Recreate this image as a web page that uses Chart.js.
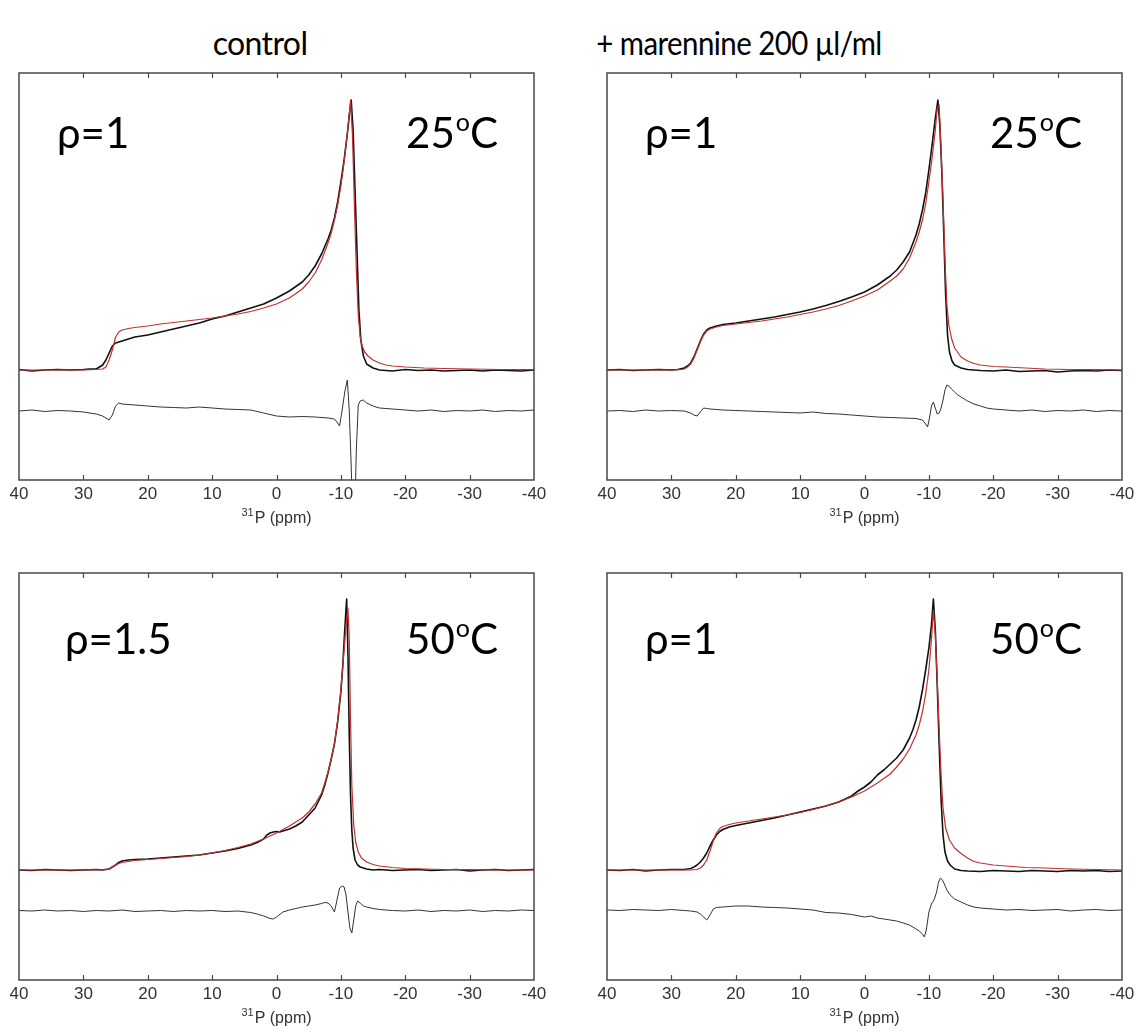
<!DOCTYPE html>
<html>
<head>
<meta charset="utf-8">
<script src="https://cdn.jsdelivr.net/npm/chart.js@4.4.1/dist/chart.umd.min.js"></script>
<style>
  body { margin: 0; width: 1136px; height: 1032px; background: #fff; position: relative; overflow: hidden; }
  .head { position: absolute; top: 23px; font-family: Lato, "Open Sans", sans-serif; font-size: 32px; color: #000; transform: translateX(-50%); white-space: nowrap; letter-spacing: -0.6px; }
  #head1 { transform: translateX(-50%) scaleX(0.92); }
  canvas { position: absolute; }
</style>
</head>
<body>
<div class="head" id="head0" style="left:260px"></div>
<div class="head" id="head1" style="left:739px"></div>
<canvas id="p0"></canvas>
<canvas id="p1"></canvas>
<canvas id="p2"></canvas>
<canvas id="p3"></canvas>
<script>
// 31P spectra: experimental (black), fit (red), difference (grey, offset below)
const ppmTicks = [40, 30, 20, 10, 0, -10, -20, -30, -40];
const columnTitles = ["control", "+ marennine 200 µl/ml"];
const rhoLabels = ["ρ=1", "ρ=1", "ρ=1.5", "ρ=1"];
const tempLabels = ["25", "25", "50", "50"];
const axisTitle = ["31", "P (ppm)"];   // superscript mass number + label

// --- control, 25 C
const p1ExpX = [40, 38, 36, 34, 32, 30, 29, 28, 27, 26.5, 26, 25.5, 25, 24, 23, 22, 20, 18, 16, 14, 12, 10, 8, 6, 4, 2, 0, -2, -4, -5, -6, -7, -8, -8.5, -9, -9.5, -10, -10.5, -11, -11.3, -11.6, -11.9, -12.2, -12.5, -12.8, -13.1, -13.5, -14, -15, -16, -18, -20, -22, -24, -26, -28, -30, -32, -34, -36, -38, -40];
const p1ExpY = [0.5, -1, 0, 0.5, 0, 0.5, 1, 1, 5, 10, 17, 24, 27, 29, 31, 33, 35, 38, 41, 44, 47, 51, 54, 58, 62, 66, 72, 79, 88, 95, 104, 116, 131, 140, 152, 168, 188, 210, 236, 254, 270, 240, 180, 120, 60, 30, 14, 6, 2, 0, -1, 0.5, -0.5, 0, -1, -0.5, 0, -1, 0, -0.5, -1, 0];
const p1FitX = [40, 30, 28, 27, 26.5, 26, 25.5, 25, 24.5, 24, 23, 22, 20, 18, 16, 14, 12, 10, 8, 6, 4, 2, 0, -2, -4, -5, -6, -7, -8, -8.5, -9, -9.5, -10, -10.5, -11, -11.5, -11.8, -12.1, -12.4, -12.7, -13, -13.3, -13.7, -14.2, -15, -16, -17, -18, -20, -23, -26, -30, -35, -40];
const p1FitY = [0, 0, 0.5, 1, 3, 10, 20, 33, 38, 40, 41.5, 42.5, 44, 46, 47.5, 49, 50.5, 52, 54, 56, 58.5, 62, 66, 72, 81, 88, 97, 110, 127, 137, 150, 165, 184, 208, 236, 270, 235, 165, 100, 55, 33, 24, 18, 14, 10, 7, 5, 4, 3, 2, 1.5, 1, 0.5, 0.3];
const p1DiffX = [40, 38, 36, 34, 32, 30, 28, 27, 26.5, 26, 25.5, 25, 24.5, 24, 22, 20, 18, 16, 14, 12, 10, 8, 6, 4, 2, 0, -2, -4, -6, -8, -9, -9.5, -9.8, -10.2, -10.6, -11, -11.3, -11.6, -11.9, -12.1, -12.4, -12.7, -13, -13.5, -14, -15, -16, -18, -20, -22, -24, -26, -28, -30, -32, -34, -36, -38, -40];
const p1DiffY = [-41, -40, -41.5, -40.5, -41, -42, -44, -46, -48, -50, -45, -36, -33, -34, -35, -36, -37, -37.5, -38, -37, -38, -39, -39.5, -40, -43, -46, -47, -46.5, -47, -48, -49, -53, -56, -40, -22, -10, -40, -95, -160, -160, -80, -35, -31, -30, -33, -36, -38, -39, -40, -41, -40, -41.5, -40.5, -41, -40, -41.5, -40.5, -41, -40];

// --- marennine, 25 C
const p2ExpX = [40, 38, 36, 34, 32, 30, 29, 28, 27.5, 27, 26.5, 26, 25.5, 25, 24.5, 24, 23, 22, 20, 18, 16, 14, 12, 10, 8, 6, 4, 2, 0, -2, -4, -5, -6, -7, -8, -8.5, -9, -9.5, -10, -10.5, -11, -11.4, -11.7, -12, -12.3, -12.6, -12.9, -13.2, -13.6, -14, -15, -16, -18, -20, -22, -24, -26, -28, -30, -32, -34, -36, -38, -40];
const p2ExpY = [0, 0.5, -0.5, 0, 0.5, 0, 0.5, 2, 4, 7, 13, 21, 29, 36, 40, 42, 44, 45.5, 47, 49, 51, 53, 55.5, 58, 61, 64.5, 68.5, 73, 78, 85, 94, 100, 108, 118, 135, 146, 160, 177, 200, 225, 252, 270, 245, 200, 140, 76, 35, 18, 9, 5, 2, 0.5, -0.5, -1, 0, -1.5, -1, -0.5, -2, -1, -0.5, -1, 0, -0.5];
const p2FitX = [40, 30, 28.5, 28, 27.5, 27, 26.5, 26, 25.5, 25, 24.5, 24, 23, 22, 20, 18, 16, 14, 12, 10, 8, 6, 4, 2, 0, -2, -4, -5, -6, -7, -8, -8.5, -9, -9.5, -10, -10.5, -11, -11.3, -11.6, -11.9, -12.2, -12.5, -12.8, -13.1, -13.5, -14, -15, -16, -17, -18, -20, -22, -25, -28, -32, -36, -40];
const p2FitY = [0, 0, 0.5, 1, 3, 6, 12, 20, 28, 35, 39, 41, 43, 44.5, 46, 47.5, 49, 51, 53, 55.5, 58, 61, 64.5, 69, 74, 80, 89, 94, 101, 112, 128, 138, 150, 166, 188, 212, 240, 262, 265, 220, 170, 110, 65, 45, 32, 22, 13, 9, 6.5, 5, 3.5, 3, 2, 1, 0.5, 0.3, 0];
const p2DiffX = [40, 38, 36, 34, 32, 30, 28, 27, 26.5, 26, 25.5, 25, 24.5, 24, 22, 20, 18, 16, 14, 12, 10, 8, 6, 4, 2, 0, -2, -4, -6, -8, -9, -9.5, -9.8, -10.1, -10.4, -10.7, -11, -11.3, -11.6, -11.9, -12.2, -12.5, -12.8, -13.1, -13.5, -14, -14.5, -15, -16, -17, -18, -19, -20, -22, -24, -26, -28, -30, -32, -34, -36, -38, -40];
const p2DiffY = [-41, -40.5, -41.5, -40, -41, -40.5, -41, -43, -45, -46, -42, -38, -38.5, -39, -40, -40.5, -41, -41.5, -42, -42.5, -43, -42, -43.5, -44, -45, -46, -47, -47.5, -48, -48.5, -50, -54, -57, -48, -36, -32, -38, -44, -43, -38, -30, -20, -15, -16, -19, -22, -25, -27, -31, -34, -36, -38, -39, -40, -41, -40, -41.5, -40.5, -41, -40, -41.5, -40.5, -41];

// --- control, 50 C
const p3ExpX = [40, 38, 36, 34, 32, 30, 28, 27, 26, 25.5, 25, 24.5, 24, 23, 22, 20, 18, 16, 14, 12, 10, 8, 6, 4, 3, 2, 1.5, 1, 0.5, 0, -0.5, -1, -2, -3, -4, -5, -6, -7, -7.5, -8, -8.5, -9, -9.5, -10, -10.3, -10.6, -10.9, -11.1, -11.3, -11.5, -11.7, -11.9, -12.2, -12.6, -13, -14, -15, -16, -18, -20, -22, -24, -26, -28, -30, -32, -34, -36, -38, -40];
const p3ExpY = [0, -0.5, 0.5, 0, -0.5, 0, 0.5, 0, 1, 3, 5, 7.5, 9, 10, 10.5, 11, 12, 13, 14, 15, 17, 19, 21.5, 25, 27.5, 31, 35, 37, 38, 38.5, 38, 39, 41, 44, 48, 55, 62, 75, 85, 97, 111, 126, 148, 178, 205, 240, 271, 215, 135, 75, 40, 22, 10, 5, 3, 1, 0, 0.5, -0.5, 0, 0.5, -0.5, 0, 0.5, -1, 0, 0.5, -0.5, 0, 0.5];
const p3FitX = [40, 30, 27, 26, 25.5, 25, 24.5, 24, 23, 22, 20, 18, 16, 14, 12, 10, 8, 6, 4, 2, 0, -2, -4, -5, -6, -7, -7.5, -8, -8.5, -9, -9.5, -10, -10.5, -10.8, -11.1, -11.3, -11.5, -11.7, -12, -12.3, -12.7, -13.2, -14, -15, -16, -18, -20, -23, -26, -30, -35, -40];
const p3FitY = [0, 0, 0.3, 1, 3, 5, 6.5, 7.5, 8.5, 9.5, 10.5, 11.5, 12.5, 13.5, 15, 17, 19.5, 22.5, 26, 31, 37, 44, 52, 58, 66, 77, 87, 98, 111, 126, 150, 180, 220, 245, 262, 230, 150, 85, 45, 28, 18, 12, 8, 5.5, 4, 2.5, 1.5, 1, 0.5, 0.3, 0, 0];
const p3DiffX = [40, 38, 36, 34, 32, 30, 28, 26, 24, 22, 20, 18, 16, 14, 12, 10, 8, 6, 4, 3, 2, 1, 0.5, 0, -1, -2, -3, -4, -5, -6, -7, -7.5, -8, -8.5, -9, -9.4, -9.8, -10.2, -10.5, -10.8, -11.1, -11.4, -11.7, -12, -12.3, -12.6, -13, -13.5, -14, -15, -16, -18, -20, -22, -24, -26, -28, -30, -32, -34, -36, -38, -40];
const p3DiffY = [-40.5, -41, -40, -41, -40.5, -41.5, -40.5, -41, -40, -41.5, -41, -40.5, -41.5, -40.5, -41, -40.5, -41.5, -41, -42.5, -44, -46, -48.5, -49, -47, -42, -40, -38.5, -37, -36, -35, -33.5, -32.5, -33, -36, -42, -30, -18, -16, -17, -25, -42, -58, -63, -50, -36, -31, -33, -36, -37, -38.5, -39.5, -40.5, -41, -40, -41.5, -40.5, -41, -40, -41.5, -40.5, -41, -40, -40.5];

// --- marennine, 50 C
const p4ExpX = [40, 38, 36, 34, 32, 30, 28, 27, 26.5, 26, 25.5, 25, 24.5, 24, 23.5, 23, 22.5, 22, 21, 20, 18, 16, 14, 12, 10, 8, 6, 4, 2, 1, 0, -1, -2, -3, -4, -5, -6, -7, -7.5, -8, -8.5, -9, -9.5, -10, -10.4, -10.7, -11, -11.3, -11.6, -11.9, -12.2, -12.5, -12.9, -13.3, -14, -15, -16, -18, -20, -22, -24, -26, -28, -30, -32, -34, -36, -38, -40];
const p4ExpY = [0, -0.5, 0.5, -1, 0, 0.5, 0.5, 1.5, 3, 5, 8, 12, 17, 24, 30, 35, 38.5, 40.5, 43, 44.5, 47, 49.5, 52, 55, 58, 61, 64, 68, 74, 79, 83, 88, 95, 100, 106, 112, 120, 132, 140, 150, 163, 180, 200, 222, 245, 271, 240, 185, 125, 70, 35, 18, 9, 5, 1, -0.5, -1, -1.5, -0.5, -1, -1.5, -0.5, -1, -1.5, -0.5, -1, -0.5, -1.5, -1];
const p4FitX = [40, 30, 27, 26, 25.5, 25, 24.5, 24, 23.5, 23, 22.5, 22, 21, 20, 18, 16, 14, 12, 10, 8, 6, 4, 2, 0, -2, -4, -5, -6, -7, -8, -8.5, -9, -9.5, -10, -10.4, -10.7, -11, -11.3, -11.6, -11.9, -12.2, -12.6, -13.2, -14, -15, -16, -17, -18, -20, -22, -25, -28, -32, -36, -40];
const p4FitY = [0, 0, 0, 0.5, 2, 5, 10, 19, 29, 37, 41.5, 43.5, 45.5, 47, 49, 51, 53, 55, 57.5, 60.5, 64, 68, 73, 79, 87, 96, 103, 111, 121, 135, 145, 158, 176, 200, 230, 260, 235, 190, 140, 95, 62, 42, 30, 22, 16.5, 12, 8.5, 7, 5, 4, 2.5, 2, 1, 0.5, 0];
const p4DiffX = [40, 38, 36, 34, 32, 30, 28, 27, 26, 25.5, 25, 24.5, 24, 23.5, 23, 22, 20, 18, 16, 14, 12, 10, 8, 6, 4, 2, 0, -1, -2, -3, -4, -5, -6, -7, -8, -8.5, -9, -9.3, -9.6, -10, -10.4, -10.8, -11.2, -11.5, -11.8, -12.1, -12.4, -12.8, -13.3, -14, -15, -16, -17, -18, -20, -22, -24, -26, -28, -30, -32, -34, -36, -38, -40];
const p4DiffY = [-40, -40.5, -39.5, -40, -40.5, -39.5, -40.5, -41, -42, -44, -47, -50, -45, -39, -37.5, -37, -36, -36, -37, -37.5, -38, -39, -40, -42.5, -43, -44.5, -47, -46, -48, -49, -50, -51, -53, -55, -59, -61, -64, -67, -60, -42, -34, -30, -22, -12, -8, -10, -14, -20, -25, -29, -32, -35, -37, -38, -39, -40, -39.5, -40.5, -40, -39.5, -41, -40, -39.5, -40.5, -40];

const spectra = [
    { exp: [p1ExpX, p1ExpY], fit: [p1FitX, p1FitY], diff: [p1DiffX, p1DiffY] },
    { exp: [p2ExpX, p2ExpY], fit: [p2FitX, p2FitY], diff: [p2DiffX, p2DiffY] },
    { exp: [p3ExpX, p3ExpY], fit: [p3FitX, p3FitY], diff: [p3DiffX, p3DiffY] },
    { exp: [p4ExpX, p4ExpY], fit: [p4FitX, p4FitY], diff: [p4DiffX, p4DiffY] },
];

// plot-area boxes on the page (px) and where the labels sit inside them
const layout = [
    { left: 19, top: 73, textY: 75, rhoX: 38, tempR: 36 },
    { left: 607, top: 73, textY: 75, rhoX: 38, tempR: 40 },
    { left: 19, top: 573, textY: 81, rhoX: 46, tempR: 36 },
    { left: 607, top: 573, textY: 81, rhoX: 38, tempR: 40 },
];
const PLOT_W = 515, PLOT_H = 407, PAD = 20, PAD_TOP = 10, AXIS_H = 50;
const AXIS_FONT = "'Liberation Sans', Arial, sans-serif";

const toPoints = ([xs, ys]) => xs.map((x, i) => ({ x: x, y: ys[i] }));

const framePlugin = {
    id: "frame",
    afterDraw(chart, args, opts) {
        const { ctx, chartArea: a } = chart;
        const xs = chart.scales.x;
        ctx.save();
        ctx.strokeStyle = "#484848";
        ctx.lineWidth = 1.5;
        ctx.strokeRect(a.left, a.top, a.right - a.left, a.bottom - a.top);
        ctx.lineWidth = 1.2;
        ppmTicks.slice(1, -1).forEach(v => {
            const px = Math.round(xs.getPixelForValue(v)) + 0.5;
            ctx.beginPath();
            ctx.moveTo(px, a.bottom); ctx.lineTo(px, a.bottom - 5);
            ctx.moveTo(px, a.top); ctx.lineTo(px, a.top + 5);
            ctx.stroke();
        });

        // axis title with superscript mass number
        ctx.fillStyle = "#333";
        ctx.textBaseline = "alphabetic";
        ctx.textAlign = "left";
        ctx.font = `11px ${AXIS_FONT}`;
        const wSup = ctx.measureText(axisTitle[0]).width;
        ctx.font = `16px ${AXIS_FONT}`;
        const wMain = ctx.measureText(axisTitle[1]).width;
        const tx = (a.left + a.right) / 2 - (wSup + wMain + 1) / 2;
        const ty = a.bottom + 43;
        ctx.fillText(axisTitle[1], tx + wSup + 1, ty);
        ctx.font = `11px ${AXIS_FONT}`;
        ctx.fillText(axisTitle[0], tx, ty - 7);

        // annotations
        const by = a.top + opts.textY;
        ctx.fillStyle = "#000";
        ctx.font = "42px Lato";
        ctx.fillText(opts.rho, a.left + opts.rhoX, by);
        const wC = ctx.measureText("C").width;
        const wn = ctx.measureText(opts.temp).width;
        ctx.font = "25px Lato";
        const wo = ctx.measureText("o").width;
        const xr = a.right - opts.tempR;
        ctx.font = "42px Lato";
        ctx.fillText("C", xr - wC, by);
        ctx.fillText(opts.temp, xr - wC - wo - wn - 1, by);
        ctx.font = "25px Lato";
        ctx.fillText("o", xr - wC - wo, by - 17);
        ctx.restore();
    },
};

function makePanel(i) {
    const L = layout[i];
    const canvas = document.getElementById("p" + i);
    canvas.width = PLOT_W + 2 * PAD;
    canvas.height = PAD_TOP + PLOT_H + AXIS_H + 5;
    canvas.style.left = (L.left - PAD) + "px";
    canvas.style.top = (L.top - PAD_TOP) + "px";
    const s = spectra[i];
    new Chart(canvas.getContext("2d"), {
        type: "line",
        data: {
            datasets: [
                { data: toPoints(s.fit), borderColor: "#c03030", borderWidth: 1.2 },
                { data: toPoints(s.exp), borderColor: "#111", borderWidth: 1.6 },
                { data: toPoints(s.diff), borderColor: "#333", borderWidth: 1 },
            ],
        },
        options: {
            responsive: false, animation: false,
            layout: { padding: { left: PAD, right: PAD, top: PAD_TOP, bottom: 5 } },
            elements: { point: { radius: 0 }, line: { tension: 0, borderJoinStyle: "round" } },
            plugins: {
                legend: { display: false }, tooltip: { enabled: false },
                frame: { rho: rhoLabels[i], temp: tempLabels[i], textY: L.textY, rhoX: L.rhoX, tempR: L.tempR },
            },
            scales: {
                x: {
                    type: "linear", reverse: true, min: -40, max: 40,
                    afterFit(scale) { scale.height = AXIS_H; },
                    grid: { display: false, drawTicks: false },
                    border: { display: false },
                    ticks: { stepSize: 10, padding: 4, maxRotation: 0, color: "#333",
                        font: { family: AXIS_FONT, size: 17 } },
                    title: { display: false },
                },
                y: { display: false, min: -110, max: 297 },
            },
        },
        plugins: [framePlugin],
    });
}

columnTitles.forEach((t, i) => { document.getElementById("head" + i).textContent = t; });
for (let i = 0; i < 4; i++) { makePanel(i); }
</script>
</body>
</html>
